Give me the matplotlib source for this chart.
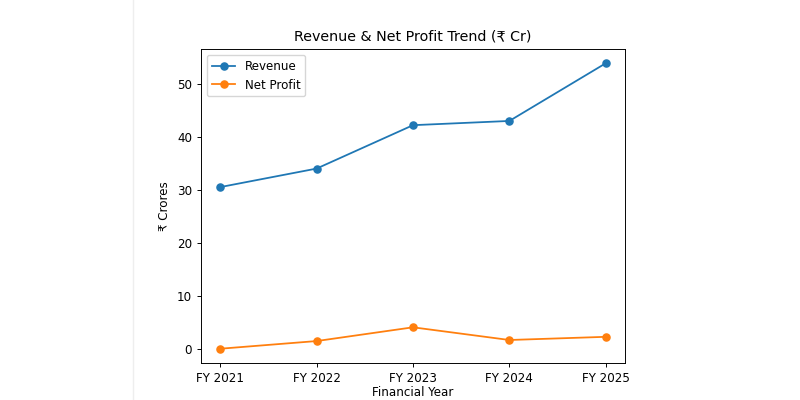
import matplotlib
matplotlib.use("Agg")
import matplotlib.pyplot as plt
from matplotlib.lines import Line2D

# Data (₹ Cr)
years = ["FY 2021", "FY 2022", "FY 2023", "FY 2024", "FY 2025"]
revenue = [30.6, 34.1, 42.3, 43.1, 54.0]
net_profit = [0.05, 1.5, 4.1, 1.7, 2.3]

s = 0.855  # the original figure looks scaled down a bit

fig = plt.figure(figsize=(8, 4), dpi=100)
ax = fig.add_axes([201 / 800, 37 / 400, 424 / 800, 314 / 400])

ax.plot(years, revenue, marker="o", markersize=6 * s, linewidth=1.5 * s, label="Revenue")
ax.plot(years, net_profit, marker="o", markersize=6 * s, linewidth=1.5 * s, label="Net Profit")

ax.set_title("Revenue & Net Profit Trend (₹ Cr)", fontsize=12 * s)
ax.set_xlabel("Financial Year", fontsize=10 * s, labelpad=0.5)
ax.set_ylabel("₹ Crores", fontsize=10 * s)
ax.tick_params(labelsize=10 * s, width=0.8 * s, length=3.5 * s)
for sp in ax.spines.values():
    sp.set_linewidth(0.8 * s)
ax.legend(fontsize=10 * s, loc="upper left")

# faint edge of the original figure
fig.add_artist(Line2D([133 / 800, 133 / 800], [0, 1], color="#eeeeee", linewidth=1))

fig.savefig("out.png", dpi=100)
